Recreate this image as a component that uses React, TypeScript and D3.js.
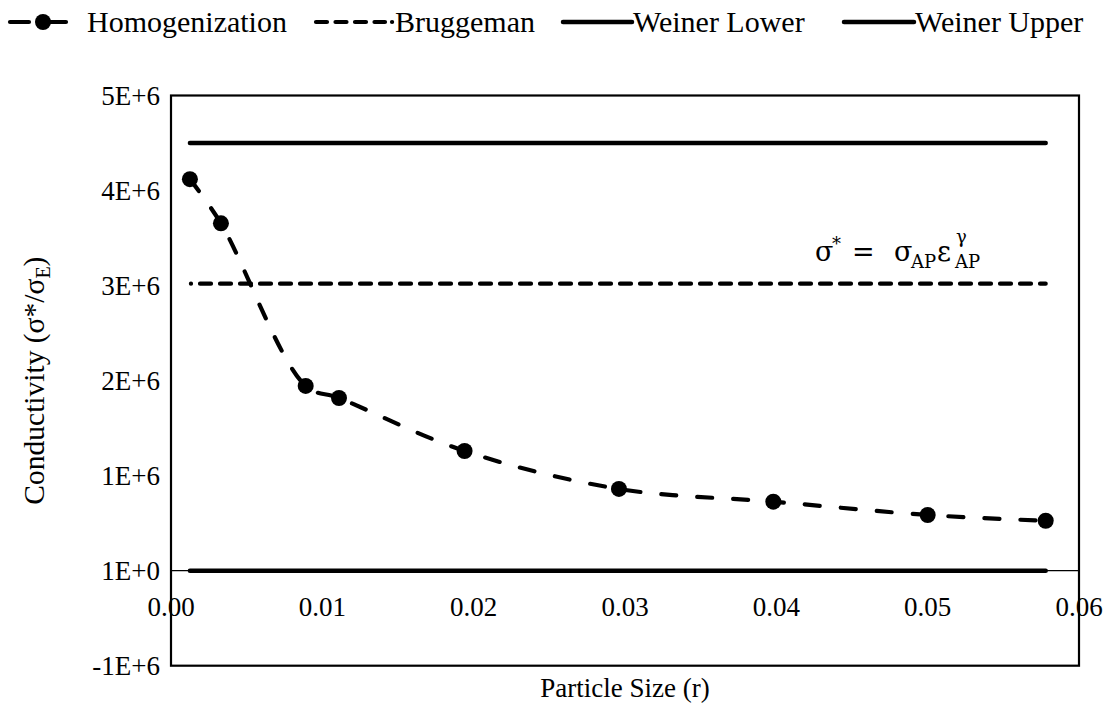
import React from "react";
import * as d3 from "d3";

// Particle size (r) and normalised conductivity from the homogenization model
const particleSize = [0.00125, 0.0033, 0.0089, 0.0111, 0.0194, 0.0296, 0.0398, 0.05, 0.0578];
const homogenization = [4.12e6, 3.655e6, 1.944e6, 1.817e6, 1.259e6, 0.86e6, 0.726e6, 0.586e6, 0.525e6];

// Constant reference models
const bruggeman = 3.02e6;
const weinerLower = 1;
const weinerUpper = 4.5e6;

// Axis ticks
const xTickValues = [0, 0.01, 0.02, 0.03, 0.04, 0.05, 0.06];
const xTickLabels = ["0.00", "0.01", "0.02", "0.03", "0.04", "0.05", "0.06"];
const yTickValues = [-1e6, 0, 1e6, 2e6, 3e6, 4e6, 5e6];
const yTickLabels = ["-1E+6", "1E+0", "1E+6", "2E+6", "3E+6", "4E+6", "5E+6"];

const W = 1116;
const H = 707;
const plot = { left: 171, right: 1079, top: 95.5, bottom: 665.7 };
const FONT = "Liberation Serif, Times New Roman, Times, DejaVu Serif, serif";
const MATH_FONT = "DejaVu Serif, Liberation Serif, serif";

export default function App() {
  const x = d3.scaleLinear().domain([0, 0.06]).range([plot.left, plot.right]);
  const y = d3.scaleLinear().domain([-1e6, 5e6]).range([plot.bottom, plot.top]);

  const pts: [number, number][] = particleSize.map((r, i) => [x(r), y(homogenization[i])]);
  const curve = d3.line().curve(d3.curveCatmullRom.alpha(0.5))(pts) || "";

  const x0 = x(particleSize[0]);
  const x1 = x(particleSize[particleSize.length - 1]);

  const ly = 22;
  const lt = 32;

  return (
    <svg
      width={W}
      height={H}
      style={{ position: "absolute", left: 0, top: 0, background: "#fff", fontFamily: FONT, fontSize: 27 }}
    >
      <rect x={0} y={0} width={W} height={H} fill="#fff" />

      {/* plot frame */}
      <rect
        x={plot.left}
        y={plot.top}
        width={plot.right - plot.left}
        height={plot.bottom - plot.top}
        fill="none"
        stroke="#000"
        strokeWidth={2.2}
      />

      {/* horizontal axis through zero */}
      <line x1={plot.left} x2={plot.right} y1={y(0)} y2={y(0)} stroke="#000" strokeWidth={1.3} />

      {/* Weiner bounds */}
      <line x1={x0} x2={x1} y1={y(weinerUpper)} y2={y(weinerUpper)} stroke="#000" strokeWidth={4.5} strokeLinecap="round" />
      <line x1={x0} x2={x1} y1={y(weinerLower)} y2={y(weinerLower)} stroke="#000" strokeWidth={4.5} strokeLinecap="round" />

      {/* Bruggeman */}
      <line
        x1={x0 + 1}
        x2={x1}
        y1={y(bruggeman)}
        y2={y(bruggeman)}
        stroke="#000"
        strokeWidth={4.2}
        strokeLinecap="round"
        strokeDasharray="11 9"
        strokeDashoffset={10.9}
      />

      {/* Homogenization */}
      <path d={curve} fill="none" stroke="#000" strokeWidth={4.2} strokeLinecap="round" strokeDasharray="15 21" />
      {pts.map((p, i) => (
        <circle key={i} cx={p[0]} cy={p[1]} r={8} fill="#000" />
      ))}

      {/* formula annotation */}
      <g style={{ fontFamily: MATH_FONT }} fontSize={27}>
        <text x={815} y={261}>σ</text>
        <text x={832} y={250} fontSize={18}>*</text>
        <text x={852} y={261}>=</text>
        <text x={894} y={261}>σ</text>
        <text x={911} y={268} fontSize={18}>AP</text>
        <text x={937} y={261}>ε</text>
        <text x={956} y={243} fontSize={18}>γ</text>
        <text x={955} y={268} fontSize={18}>AP</text>
      </g>

      {/* x tick labels */}
      {xTickValues.map((v, i) => (
        <text key={v} x={x(v)} y={616} textAnchor="middle">
          {xTickLabels[i]}
        </text>
      ))}

      {/* y tick labels */}
      {yTickValues.map((v, i) => (
        <text key={v} x={160} y={y(v) + 9} textAnchor="end">
          {yTickLabels[i]}
        </text>
      ))}

      {/* axis titles */}
      <text x={(plot.left + plot.right) / 2} y={697} textAnchor="middle">
        Particle Size (r)
      </text>
      <text
        transform={`translate(44, ${(plot.top + plot.bottom) / 2}) rotate(-90)`}
        textAnchor="middle"
        fontSize={29.5}
      >
        Conductivity (σ*/σ<tspan dy={6} fontSize={20}>E</tspan>
        <tspan dy={-6}>)</tspan>
      </text>

      {/* legend */}
      <g fontSize={30}>
        <line x1={10} x2={29} y1={ly} y2={ly} stroke="#000" strokeWidth={4.2} strokeLinecap="round" />
        <line x1={45} x2={66} y1={ly} y2={ly} stroke="#000" strokeWidth={4.2} strokeLinecap="round" />
        <circle cx={43} cy={ly} r={8} fill="#000" />
        <text x={87} y={lt}>Homogenization</text>

        <line x1={316} x2={385} y1={ly} y2={ly} stroke="#000" strokeWidth={4.2} strokeLinecap="round" strokeDasharray="11 8.5" />
        <line x1={392} x2={392.1} y1={ly} y2={ly} stroke="#000" strokeWidth={4.2} strokeLinecap="round" />
        <text x={395} y={lt}>Bruggeman</text>

        <line x1={563} x2={632} y1={ly} y2={ly} stroke="#000" strokeWidth={4.5} strokeLinecap="round" />
        <text x={633} y={lt}>Weiner Lower</text>

        <line x1={844} x2={914} y1={ly} y2={ly} stroke="#000" strokeWidth={4.5} strokeLinecap="round" />
        <text x={915} y={lt}>Weiner Upper</text>
      </g>
    </svg>
  );
}
